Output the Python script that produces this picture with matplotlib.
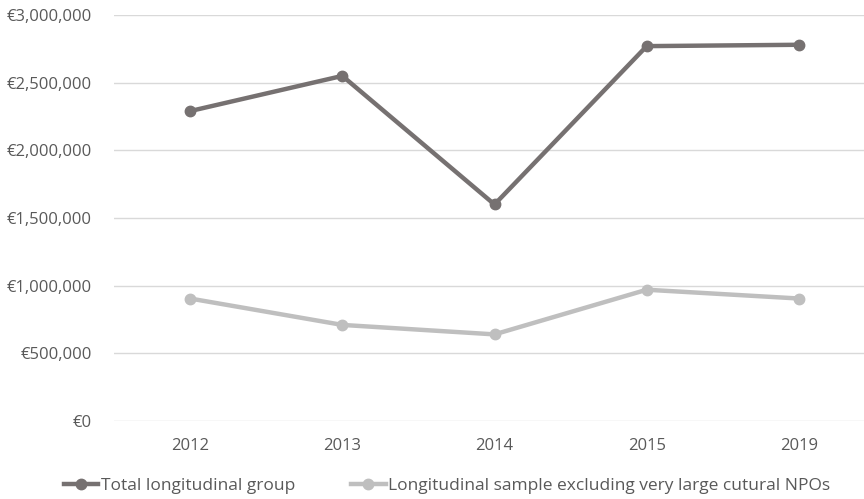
import matplotlib
matplotlib.use("Agg")
import matplotlib.pyplot as plt
from matplotlib.ticker import FuncFormatter
from matplotlib.lines import Line2D

years = ["2012", "2013", "2014", "2015", "2019"]
total_group = [2290000, 2550000, 1600000, 2770000, 2780000]
sample_excl = [905000, 710000, 640000, 970000, 905000]
y_ticks = [0, 500000, 1000000, 1500000, 2000000, 2500000, 3000000]

plt.rcParams["font.family"] = ["Open Sans", "DejaVu Sans"]
dark = "#767171"
light = "#BFBFBF"
txt = "#595959"

fig = plt.figure(figsize=(8.64, 4.99), dpi=100)
ax = fig.add_axes([114 / 864, 78 / 499, 750 / 864, 406 / 499])

x = range(len(years))
ax.plot(x, total_group, color=dark, lw=3.2, marker="o", ms=7.5, solid_capstyle="round", zorder=3)
ax.plot(x, sample_excl, color=light, lw=3.2, marker="o", ms=7.5, solid_capstyle="round", zorder=3)

ax.set_xlim(-0.5, 4.5 - 11 / 152)
ax.set_ylim(0, 3000000)
ax.set_yticks(y_ticks)
ax.yaxis.set_major_formatter(FuncFormatter(lambda v, p: "€{:,.0f}".format(v)))
ax.set_xticks(list(x))
ax.set_xticklabels(years)
ax.grid(axis="y", color="#D9D9D9", lw=1)
ax.set_axisbelow(True)
for s in ax.spines.values():
    s.set_visible(False)
ax.tick_params(length=0, colors=txt, labelsize=12)
ax.tick_params(axis="x", pad=12)
ax.tick_params(axis="y", pad=16)

handles = [
    Line2D([], [], color=dark, lw=3.2, marker="o", ms=7.5),
    Line2D([], [], color=light, lw=3.2, marker="o", ms=7.5),
]
fig.legend(handles, ["Total longitudinal group", "Longitudinal sample excluding very large cutural NPOs"],
           loc="center", bbox_to_anchor=(447 / 864, 13 / 499), ncol=2, frameon=False,
           fontsize=12.5, labelcolor=txt, handlelength=2.0, handletextpad=0.15, columnspacing=3.2)

fig.savefig("out.png", dpi=100)
